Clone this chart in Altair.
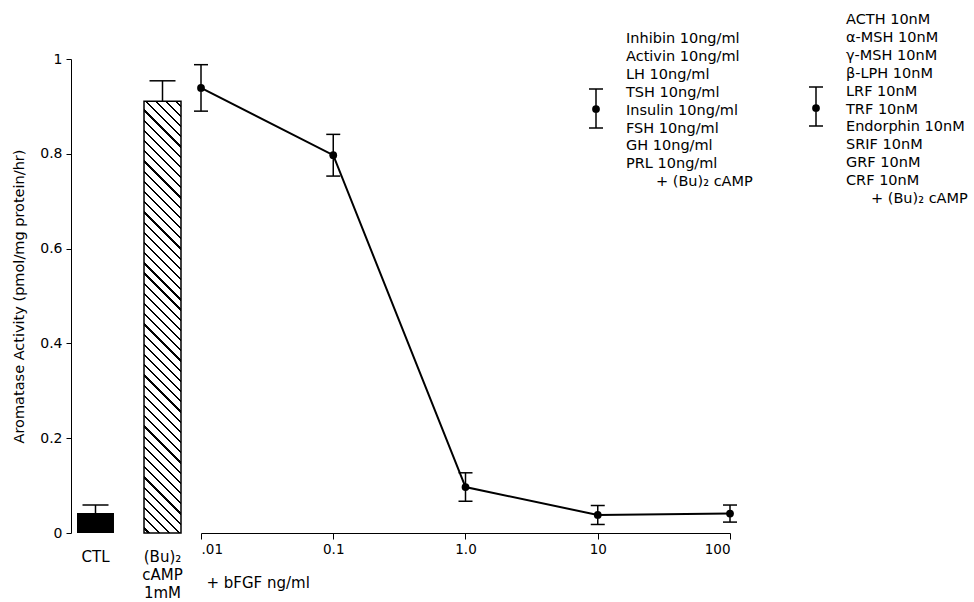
import altair as alt
import pandas as pd

# ---------------- data ----------------
bar_categories = ["CTL", "(Bu)₂|cAMP|1mM"]
bar_values = [0.042, 0.911]
bar_errors = [0.017, 0.043]

bfgf_conc = [0.01, 0.1, 1.0, 10, 100]
bfgf_mean = [0.939, 0.797, 0.097, 0.038, 0.041]
bfgf_sem = [0.049, 0.044, 0.030, 0.020, 0.018]
x_tick_labels = [".01", "0.1", "1.0", "10", "100"]
y_ticks = [0, 0.2, 0.4, 0.6, 0.8, 1]

legend_left = ["Inhibin 10ng/ml", "Activin 10ng/ml", "LH 10ng/ml", "TSH 10ng/ml",
               "Insulin 10ng/ml", "FSH 10ng/ml", "GH 10ng/ml", "PRL 10ng/ml"]
legend_right = ["ACTH 10nM", "α-MSH 10nM", "γ-MSH 10nM", "β-LPH 10nM", "LRF 10nM",
                "TRF 10nM", "Endorphin 10nM", "SRIF 10nM", "GRF 10nM", "CRF 10nM"]
legend_tail = "+ (Bu)₂ cAMP"

FONT = "DejaVu Sans"
LH = 17.9

bars_df = pd.DataFrame({"cat": bar_categories, "value": bar_values, "err": bar_errors})
bfgf_df = pd.DataFrame({"conc": bfgf_conc, "mean": bfgf_mean, "sem": bfgf_sem})
one_df = pd.DataFrame({"k": [0]})

# ---------------- hatch fill (style) ----------------
N = 46
stops = [{"offset": 0, "color": "white"}]
for i in range(N):
    a = (i + 0.39) / N
    b = (i + 0.61) / N
    stops += [{"offset": a, "color": "white"}, {"offset": a, "color": "black"},
              {"offset": b, "color": "black"}, {"offset": b, "color": "white"}]
stops.append({"offset": 1, "color": "white"})
r = 37 / 432.0
L = (1 + r) / (1 + r * r)
hatch = {"gradient": "linear", "x1": 1, "y1": 0, "x2": 1 - r * L, "y2": L, "stops": stops}

# ---------------- left panel ----------------
yscale = alt.Scale(domain=[0, 1], nice=False, zero=True)
xband = alt.Scale(domain=bar_categories, paddingInner=0.448, paddingOuter=0.0896)

yaxis = alt.Axis(title="Aromatase Activity (pmol/mg protein/hr)", values=y_ticks, format="~g",
                 grid=False, domainColor="black", tickColor="black", tickSize=5,
                 labelPadding=4, labelFont=FONT, labelFontSize=14, labelColor="black",
                 titleFont=FONT, titleFontSize=14.5, titleFontWeight="normal",
                 titleColor="black", titlePadding=13)
xaxis_left = alt.Axis(title=None, labelExpr="split(datum.label, '|')", labelAngle=0,
                      domain=False, ticks=False, tickSize=0, labelPadding=16,
                      labelFont=FONT, labelFontSize=15, labelLineHeight=18,
                      labelColor="black", labelBaseline="top", grid=False)

base_l = alt.Chart(bars_df).transform_calculate(upper="datum.value + datum.err").encode(
    x=alt.X("cat:N", scale=xband, sort=bar_categories, axis=xaxis_left)
)
ctl_bar = base_l.transform_filter("datum.cat == 'CTL'").mark_bar(color="black").encode(
    y=alt.Y("value:Q", scale=yscale, axis=yaxis))
cam_bar = base_l.transform_filter("datum.cat != 'CTL'").mark_bar(
    fill=hatch, stroke="black", strokeWidth=1.5).encode(
    y=alt.Y("value:Q", scale=yscale, axis=yaxis))
bar_stem = base_l.mark_rule(color="black", strokeWidth=1.5).encode(
    y=alt.Y("value:Q", scale=yscale, axis=yaxis), y2="upper:Q")
bar_cap = base_l.mark_tick(color="black", size=26, thickness=1.5, opacity=1).encode(
    y=alt.Y("upper:Q", scale=yscale, axis=yaxis))

left = alt.layer(ctl_bar, cam_bar, bar_stem, bar_cap).properties(width=116, height=474)

# ---------------- right panel ----------------
label_arr = "[" + ",".join("'" + s + "'" for s in x_tick_labels) + "]"
xscale = alt.Scale(type="log", domain=[0.01, 100], nice=False)
xaxis_r = alt.Axis(title="+ bFGF ng/ml", values=bfgf_conc,
                   labelExpr=label_arr + "[round(log(datum.value)/LN10) + 2]",
                   grid=False, domainColor="black", tickColor="black", tickSize=6,
                   labelPadding=3, labelFont=FONT, labelFontSize=13.5, labelColor="black",
                   titleFont=FONT, titleFontSize=15, titleFontWeight="normal",
                   titleColor="black", titleAnchor="start", titleAlign="left",
                   titleX=5, titleY=49, titleBaseline="middle")

base_r = alt.Chart(bfgf_df).transform_calculate(
    lower="datum.mean - datum.sem", upper="datum.mean + datum.sem"
).encode(x=alt.X("conc:Q", scale=xscale, axis=xaxis_r))

line = base_r.mark_line(color="black", strokeWidth=2).encode(
    y=alt.Y("mean:Q", scale=yscale, axis=None))
pts = base_r.mark_point(filled=True, size=60, color="black", opacity=1).encode(
    y=alt.Y("mean:Q", scale=yscale, axis=None))
stem = base_r.mark_rule(color="black", strokeWidth=1.5).encode(
    y=alt.Y("lower:Q", scale=yscale, axis=None), y2="upper:Q")
cap_hi = base_r.mark_tick(color="black", orient="horizontal", size=14, thickness=1.5, opacity=1).encode(
    y=alt.Y("upper:Q", scale=yscale, axis=None))
cap_lo = base_r.mark_tick(color="black", orient="horizontal", size=14, thickness=1.5, opacity=1).encode(
    y=alt.Y("lower:Q", scale=yscale, axis=None))


def legend_text(lines, xp, yp, indent):
    block = alt.Chart(one_df).mark_text(
        align="left", baseline="top", font=FONT, fontSize=14.5, lineHeight=LH, color="black"
    ).encode(x=alt.value(xp), y=alt.value(yp), text=alt.value(lines))
    tail = alt.Chart(one_df).mark_text(
        align="left", baseline="top", font=FONT, fontSize=14.5, lineHeight=LH, color="black"
    ).encode(x=alt.value(xp + indent), y=alt.value(yp + LH * len(lines)),
             text=alt.value(legend_tail))
    return [block, tail]


def glyph(xp, ytop, ydot, ybot):
    one = alt.Chart(one_df)
    s = one.mark_rule(color="black", strokeWidth=1.5).encode(
        x=alt.value(xp), y=alt.value(ytop), y2=alt.value(ybot))
    t = one.mark_rule(color="black", strokeWidth=1.5).encode(
        x=alt.value(xp - 7), x2=alt.value(xp + 7), y=alt.value(ytop))
    b = one.mark_rule(color="black", strokeWidth=1.5).encode(
        x=alt.value(xp - 7), x2=alt.value(xp + 7), y=alt.value(ybot))
    d = one.mark_point(filled=True, size=60, color="black", opacity=1).encode(
        x=alt.value(xp), y=alt.value(ydot))
    return [s, t, b, d]


right = alt.layer(
    stem, cap_hi, cap_lo, line, pts,
    *legend_text(legend_left, 425, -27, 30),
    *legend_text(legend_right, 645, -46, 25),
    *glyph(395, 30, 50, 69),
    *glyph(615, 28, 49, 67),
).properties(width=529, height=474)

chart = alt.hconcat(left, right, spacing=14, bounds="flush").configure_view(
    stroke=None
).properties(
    padding={"left": 11, "top": 12, "right": 0, "bottom": 2},
    autosize=alt.AutoSizeParams(type="pad"),
    background="white",
)

chart.save("out.html", embed_options={"renderer": "svg", "actions": False})
